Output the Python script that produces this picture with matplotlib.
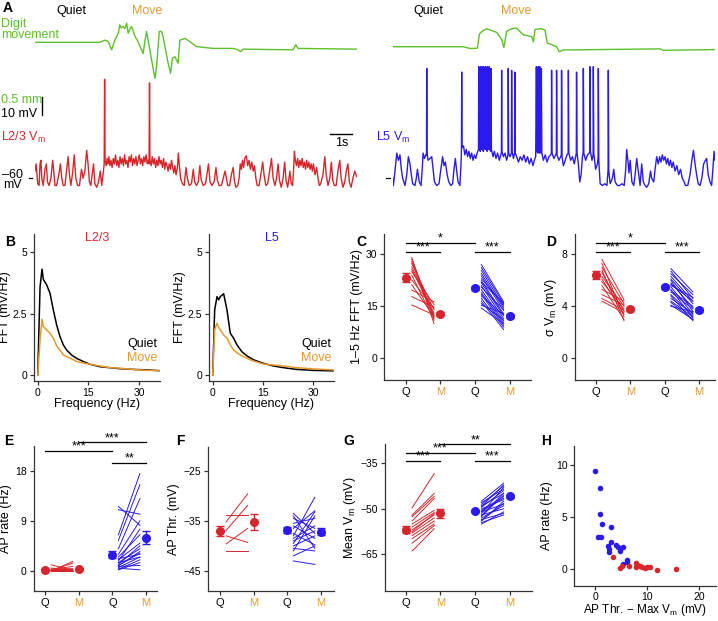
import matplotlib.pyplot as plt

plt.rcParams['font.family'] = ['Liberation Sans', 'DejaVu Sans']
plt.rcParams['mathtext.default'] = 'regular'

RED = '#D7262B'
BLUE = '#2A1AEE'
ORANGE = '#E8992E'
GREEN = '#5CC02A'
W, H = 718, 621

# ---- panel A traces (time s, Vm mV) / (time s, digit position mm)
l23_vm = [
    (0.00, -56), (0.05, -52), (0.12, -63), (0.18, -64), (0.22, -52), (0.26, -50), (0.30, -60), (0.36, -64),
    (0.44, -55), (0.50, -52), (0.55, -62), (0.62, -64), (0.70, -60), (0.78, -50), (0.82, -55), (0.88, -64),
    (0.95, -64), (1.05, -58), (1.12, -52), (1.18, -60), (1.24, -64), (1.32, -64), (1.40, -55), (1.46, -48),
    (1.52, -58), (1.58, -64), (1.66, -57), (1.73, -47), (1.80, -60), (1.88, -64), (1.96, -64), (2.05, -55),
    (2.12, -60), (2.20, -56), (2.28, -44.5), (2.34, -52), (2.40, -62), (2.46, -64), (2.52, -58), (2.58, -52),
    (2.64, -63), (2.72, -65), (2.80, -62), (2.88, -56), (2.94, -64), (3.00, -58), (3.05, -52), (3.07, -5),
    (3.09, -50), (3.14, -53), (3.18, -49), (3.22, -52), (3.26, -48), (3.30, -53), (3.35, -50), (3.40, -54),
    (3.45, -49), (3.50, -52), (3.55, -47), (3.60, -53), (3.65, -50), (3.70, -54), (3.75, -48), (3.80, -52),
    (3.85, -49), (3.90, -53), (3.95, -47), (4.00, -52), (4.05, -50), (4.10, -54), (4.15, -48), (4.20, -51),
    (4.25, -47), (4.30, -53), (4.35, -49), (4.40, -52), (4.45, -48), (4.50, -53), (4.55, -50), (4.60, -47),
    (4.65, -52), (4.70, -49), (4.75, -53), (4.80, -48), (4.85, -51), (4.90, -47), (4.95, -52), (5.00, -50),
    (5.03, -52), (5.05, -7), (5.07, -50), (5.12, -53), (5.17, -48), (5.22, -52), (5.27, -49), (5.32, -54),
    (5.37, -50), (5.42, -53), (5.47, -48), (5.52, -52), (5.57, -50), (5.62, -54), (5.67, -49), (5.72, -55),
    (5.77, -51), (5.82, -53), (5.87, -56), (5.92, -52), (5.97, -55), (6.02, -50), (6.07, -54), (6.12, -57),
    (6.17, -53), (6.22, -58), (6.28, -54), (6.32, -46), (6.36, -52), (6.42, -60), (6.50, -63), (6.58, -64),
    (6.66, -54), (6.72, -60), (6.80, -64), (6.90, -63), (6.98, -55), (7.04, -62), (7.12, -64), (7.20, -62),
    (7.27, -53), (7.33, -61), (7.42, -64), (7.52, -63), (7.60, -56), (7.65, -52), (7.72, -62), (7.80, -64),
    (7.90, -62), (7.98, -54), (8.04, -61), (8.12, -64), (8.22, -64), (8.30, -60), (8.38, -56), (8.44, -60),
    (8.50, -64), (8.58, -64), (8.66, -58), (8.74, -54), (8.80, -62), (8.86, -65), (8.94, -64), (9.00, -60),
    (9.05, -52), (9.10, -55), (9.15, -50), (9.20, -54), (9.25, -49), (9.32, -47.5), (9.38, -53), (9.44, -50),
    (9.50, -55), (9.56, -51), (9.62, -56), (9.68, -53), (9.74, -60), (9.80, -64), (9.88, -64), (9.96, -58),
    (10.04, -51), (10.10, -58), (10.18, -64), (10.26, -63), (10.36, -55), (10.43, -49), (10.50, -60),
    (10.58, -64), (10.65, -60), (10.72, -52), (10.78, -61), (10.86, -65), (10.94, -60), (11.01, -51),
    (11.07, -61), (11.14, -65), (11.20, -60), (11.24, -56), (11.30, -63), (11.36, -64), (11.40, -56),
    (11.44, -45), (11.48, -50), (11.53, -53), (11.58, -49), (11.63, -54), (11.68, -50), (11.73, -53),
    (11.78, -49), (11.83, -54), (11.88, -51), (11.93, -55), (11.98, -50), (12.03, -54), (12.08, -51),
    (12.13, -55), (12.18, -52), (12.23, -56), (12.28, -52), (12.35, -58), (12.42, -54), (12.48, -60),
    (12.54, -64), (12.60, -63), (12.70, -58), (12.78, -48), (12.84, -58), (12.92, -64), (13.00, -60),
    (13.07, -51), (13.13, -61), (13.20, -64), (13.28, -64), (13.36, -56), (13.44, -50), (13.50, -60),
    (13.58, -65), (13.66, -62), (13.74, -55), (13.80, -52), (13.86, -62), (13.94, -65), (14.02, -60),
    (14.10, -56), (14.18, -59),
]
l5_vm = [
    (0.00, -60), (0.03, -64), (0.10, -56), (0.18, -46), (0.25, -50), (0.32, -47), (0.38, -55), (0.44, -60),
    (0.54, -64), (0.62, -58), (0.69, -48), (0.76, -52), (0.82, -58), (0.88, -63), (0.98, -64), (1.04, -60),
    (1.09, -55), (1.17, -62), (1.25, -64), (1.30, -55), (1.34, -46), (1.40, -49), (1.46, -47), (1.49, -47),
    (1.50, 1), (1.51, -46), (1.56, -50), (1.64, -49), (1.72, -48), (1.78, -55), (1.84, -62), (1.94, -64),
    (2.04, -63), (2.12, -55), (2.20, -48), (2.26, -53), (2.32, -51), (2.40, -58), (2.47, -62), (2.56, -64),
    (2.64, -63), (2.70, -55), (2.76, -49), (2.82, -56), (2.88, -62), (2.96, -64), (3.01, -52), (3.03, -44),
    (3.04, -1), (3.05, -43), (3.12, -42), (3.18, -47), (3.24, -44), (3.30, -48), (3.36, -45), (3.42, -49),
    (3.48, -46), (3.54, -50), (3.60, -47), (3.66, -49), (3.72, -46), (3.78, -44), (3.79, 2), (3.81, -43),
    (3.86, -45), (3.87, 2), (3.89, -43), (3.93, -44), (3.94, 2), (3.96, -44), (4.00, -45), (4.01, 2),
    (4.03, -42), (4.08, -44), (4.09, 2), (4.11, -43), (4.16, -45), (4.17, 2), (4.19, -43), (4.24, -44),
    (4.25, 2), (4.27, -44), (4.32, -45), (4.33, 1), (4.35, -44), (4.42, -48), (4.48, -45), (4.55, -49),
    (4.62, -46), (4.70, -50), (4.76, -47), (4.79, -46), (4.80, 0), (4.81, -45), (4.88, -48), (4.95, -46),
    (5.02, -50), (5.08, -47), (5.09, 1), (5.11, -46), (5.17, -48), (5.23, -46), (5.24, 0), (5.26, -45),
    (5.32, -49), (5.37, -46), (5.38, -1), (5.40, -46), (5.46, -48), (5.54, -51), (5.62, -48), (5.70, -50),
    (5.78, -47), (5.86, -51), (5.94, -48), (6.02, -52), (6.10, -49), (6.18, -53), (6.24, -50), (6.30, -48),
    (6.33, 2), (6.35, -45), (6.40, -46), (6.41, 2), (6.43, -45), (6.47, -46), (6.48, 2), (6.50, -45),
    (6.54, -46), (6.55, 1), (6.57, -46), (6.64, -50), (6.72, -47), (6.80, -51), (6.88, -48), (6.96, -47),
    (6.99, -46), (7.00, 0), (7.02, -46), (7.10, -49), (7.18, -47), (7.21, -46), (7.22, 0), (7.24, -47),
    (7.32, -50), (7.40, -48), (7.43, -47), (7.44, 0), (7.46, -48), (7.52, -53), (7.60, -50), (7.68, -47),
    (7.73, -46), (7.74, 0), (7.76, -46), (7.84, -50), (7.92, -48), (8.00, -52), (8.06, -48), (8.09, -46),
    (8.10, -1), (8.12, -46), (8.18, -52), (8.24, -62), (8.30, -58), (8.36, -48), (8.39, -46), (8.40, 1),
    (8.42, -46), (8.50, -50), (8.58, -47), (8.66, -46), (8.68, -45), (8.69, 2), (8.71, -45), (8.78, -50),
    (8.83, -47), (8.84, 2), (8.86, -46), (8.94, -55), (9.02, -52), (9.05, -48), (9.06, 1), (9.08, -50),
    (9.14, -63), (9.24, -64), (9.34, -63), (9.44, -64), (9.49, -55), (9.50, 0), (9.52, -56), (9.58, -63),
    (9.68, -60), (9.74, -55), (9.80, -62), (9.90, -64), (10.00, -64), (10.10, -63), (10.20, -64),
    (10.26, -56), (10.31, -44), (10.36, -50), (10.41, -57), (10.46, -50), (10.54, -62), (10.62, -64),
    (10.68, -58), (10.75, -49), (10.82, -56), (10.90, -64), (10.97, -52), (11.04, -62), (11.12, -64),
    (11.19, -65), (11.28, -63), (11.36, -56), (11.41, -60), (11.50, -62), (11.56, -55), (11.63, -48),
    (11.70, -52), (11.76, -48), (11.82, -51), (11.88, -47), (11.94, -50), (12.00, -48), (12.06, -52),
    (12.12, -49), (12.18, -53), (12.24, -50), (12.30, -54), (12.36, -51), (12.44, -56), (12.52, -53),
    (12.60, -58), (12.68, -55), (12.76, -60), (12.84, -62), (12.90, -64), (13.00, -64), (13.10, -58),
    (13.18, -50), (13.25, -44.5), (13.32, -52), (13.39, -58), (13.46, -63), (13.54, -64), (13.62, -60),
    (13.70, -52), (13.78, -50), (13.83, -49), (13.90, -58), (13.98, -62), (14.05, -64), (14.10, -56),
    (14.16, -45), (14.20, -50),
]
digit_l23 = [
    (0.00, 0.00), (2.86, 0.00), (3.08, 0.06), (3.23, 0.02), (3.38, -0.21), (3.52, 0.06), (3.67, 0.25),
    (3.74, 0.48), (3.80, 0.40), (3.89, 0.44), (3.96, 0.38), (4.04, 0.53), (4.11, 0.25), (4.18, 0.36),
    (4.26, 0.44), (4.41, 0.16), (4.52, 0.05), (4.63, -0.12), (4.77, -0.31), (4.85, 0.05), (4.92, 0.30),
    (5.04, -0.12), (5.14, -0.49), (5.29, -1.00), (5.36, -0.68), (5.48, 0.30), (5.58, 0.30), (5.65, 0.15),
    (5.73, -0.12), (5.87, -0.58), (5.98, -0.86), (6.06, -0.44), (6.17, -0.40), (6.31, -0.58), (6.39, 0.06),
    (6.61, 0.11), (6.83, 0.02), (7.12, -0.12), (7.86, -0.17), (8.74, -0.17), (8.96, -0.21), (9.06, -0.26),
    (9.18, -0.19), (11.38, -0.21), (11.50, -0.07), (11.60, -0.17), (14.17, -0.19),
]
digit_l5 = [
    (0.00, 0.00), (3.11, 0.00), (3.41, -0.05), (3.73, -0.04), (3.82, 0.35), (3.92, 0.42), (4.14, 0.50),
    (4.36, 0.45), (4.58, 0.40), (4.80, 0.20), (4.90, -0.02), (5.02, 0.43), (5.24, 0.50), (5.46, 0.52),
    (5.64, 0.40), (5.76, 0.33), (5.98, 0.30), (6.12, 0.28), (6.20, 0.14), (6.27, 0.48), (6.56, 0.50),
    (6.71, 0.46), (6.81, 0.10), (7.00, 0.06), (7.22, 0.00), (7.34, -0.14), (7.52, -0.09), (11.78, -0.06),
    (11.92, -0.10), (14.20, -0.08),
]

# ---- panel B
freq_l23 = [0, 0.69, 1.28, 1.67, 2.65, 3.64, 4.62, 5.6, 6.59, 7.57, 8.55, 10.0, 11.5, 13.5, 15.4, 18.4, 21.3, 24.3, 28.2, 32.2, 35.9]
fft_l23_quiet = [0, 3.6, 4.32, 3.9, 3.68, 3.34, 2.66, 2.05, 1.58, 1.24, 1.03, 0.83, 0.69, 0.56, 0.45, 0.35, 0.31, 0.27, 0.24, 0.22, 0.19]
fft_l23_move = [0, 1.44, 2.28, 1.98, 1.85, 1.71, 1.51, 1.2, 1.03, 0.83, 0.76, 0.67, 0.56, 0.5, 0.45, 0.38, 0.31, 0.29, 0.24, 0.2, 0.19]
freq_l5 = [0, 0.59, 1.29, 1.78, 2.28, 3.27, 4.26, 5.25, 6.24, 7.23, 8.7, 10.2, 12.2, 15.1, 18.1, 21.1, 25, 30, 35.9]
fft_l5_quiet = [0, 2.66, 3.2, 3.07, 3.2, 3.32, 2.66, 1.71, 1.51, 1.24, 0.96, 0.79, 0.63, 0.49, 0.38, 0.31, 0.24, 0.2, 0.18]
fft_l5_move = [0, 1.85, 2.12, 1.95, 1.85, 1.64, 1.51, 1.24, 1.03, 0.92, 0.79, 0.69, 0.58, 0.46, 0.42, 0.38, 0.31, 0.26, 0.22]

# ---- panels C-G: group means/SEM (L2/3 Q, L2/3 M, L5 Q, L5 M) and single cells
cond_labels = ['Q', 'M', 'Q', 'M']
c_mean = [23.3, 12.7, 20.3, 12.1]
c_sem = [1.3, 0.6, 0.6, 0.6]
c_l23_q = [29.1, 28.6, 27.9, 27.4, 26.4, 25.7, 25.0, 24.0, 22.6, 21.2, 19.7, 17.8, 15.4]
c_l23_m = [10.0, 12.0, 11.5, 14.0, 13.0, 12.5, 15.5, 11.0, 14.5, 12.0, 16.3, 14.8, 12.5]
c_l5_q = [27.1, 26.2, 25.4, 24.5, 23.8, 23.0, 22.4, 21.8, 21.0, 20.5, 19.8, 19.0, 18.5, 18.0, 17.3, 16.5, 15.8, 15.3, 14.5, 22.0]
c_l5_m = [16.3, 15.8, 15.0, 14.5, 13.8, 15.5, 12.8, 12.3, 11.5, 14.0, 10.8, 10.2, 9.5, 12.5, 9.0, 8.3, 11.0, 13.0, 10.0, 16.0]

d_mean = [6.4, 3.8, 5.5, 3.75]
d_sem = [0.3, 0.15, 0.15, 0.15]
d_l23_q = [7.6, 7.3, 7.0, 6.8, 6.6, 6.3, 6.1, 5.9, 5.6, 5.3, 4.9, 4.6, 4.4]
d_l23_m = [4.5, 3.2, 4.2, 2.9, 3.6, 4.0, 3.4, 3.8, 3.0, 4.4, 4.1, 3.7, 3.5]
d_l5_q = [6.9, 6.7, 6.5, 6.3, 6.1, 6.0, 5.8, 5.6, 5.5, 5.3, 5.1, 4.9, 4.8, 4.6, 4.4, 4.3, 4.1, 4.0, 5.7, 5.2]
d_l5_m = [5.1, 4.6, 4.9, 4.4, 4.2, 3.6, 3.9, 4.7, 3.4, 3.1, 3.8, 3.3, 2.9, 3.5, 3.2, 3.0, 3.0, 3.6, 4.4, 4.0]

e_mean = [0.2, 0.3, 2.9, 6.0]
e_sem = [0.1, 0.1, 0.6, 1.1]
e_l23_q = [0, 0, 0.1, 1.1, 0.2, 0, 0.3, 0, 0.1, 0, 0.5, 0, 0.2]
e_l23_m = [0.2, 1.7, 1.4, 0.1, 0.4, 0, 0.8, 0, 0.2, 0.1, 0.3, 0, 0.3]
e_l5_q = [11.6, 11.0, 6.5, 5.5, 4.0, 3.0, 2.5, 2.0, 1.5, 1.0, 0.6, 0.3, 0.2, 0.5, 1.2, 2.2, 1.8, 0.8, 1.5, 0.9]
e_l5_m = [8.2, 10.2, 17.5, 15.5, 13.0, 9.0, 6.5, 5.0, 4.0, 3.2, 2.5, 2.0, 1.5, 0.2, 4.5, 3.0, 7.5, 1.0, 2.5, 3.5]

f_mean = [-37.0, -35.2, -36.8, -37.2]
f_sem = [1.0, 1.6, 0.6, 0.7]
f_l23_q = [-35.2, -36.9, -33.9, -39.6, -41.0, -38.0]
f_l23_m = [-29.6, -31.9, -33.9, -36.5, -41.0, -39.3]
f_l5_q = [-43.0, -38.0, -33.5, -39.5, -34.0, -41.0, -36.0, -38.5, -40.5, -35.5, -37.5, -39.0, -34.5, -40.0, -36.5, -42.0]
f_l5_m = [-43.7, -30.3, -37.5, -33.2, -40.5, -34.0, -38.5, -36.0, -41.0, -34.5, -39.8, -37.0, -36.5, -38.0, -33.0, -40.0]

g_mean = [-56.8, -51.5, -50.7, -45.9]
g_sem = [1.0, 1.5, 0.4, 0.4]
g_l23_q = [-49.7, -52.1, -52.6, -54.0, -55.0, -56.0, -56.9, -57.9, -58.8, -59.8, -61.3, -63.9, -57.5]
g_l23_m = [-38.4, -44.9, -45.9, -46.6, -50.5, -51.2, -52.0, -53.0, -54.0, -55.0, -55.5, -56.5, -51.6]
g_l5_q = [-47.5, -48.0, -48.5, -49.0, -49.5, -50.0, -50.5, -51.0, -51.5, -52.0, -52.5, -53.0, -53.5, -54.0, -54.5, -55.0, -49.2, -50.8, -52.2, -53.8]
g_l5_m = [-41.6, -43.5, -42.5, -45.0, -44.0, -47.0, -46.0, -48.5, -43.0, -50.0, -45.5, -49.0, -51.5, -47.5, -52.0, -51.0, -42.2, -46.5, -44.8, -48.2]

# ---- panel H
h_l5_x = [0, 1.03, 1.03, 1.35, 0.58, 1.15, 3.08, 3.14, 2.56, 2.76, 2.63, 4.0, 4.36, 4.74, 5.38, 5.38, 6.09, 6.15, 8.08]
h_l5_y = [9.42, 7.86, 5.34, 4.38, 3.13, 3.13, 4.03, 2.68, 2.24, 1.92, 1.69, 2.3, 2.14, 1.76, 2.2, 0.48, 0.93, 0.7, 0.42]
h_l23_x = [3.46, 4.87, 5.26, 6.47, 7.82, 7.82, 8.65, 8.97, 9.55, 10.06, 10.58, 11.86, 15.58]
h_l23_y = [1.15, 0.16, 0.29, 0.32, 0.61, 0.19, 0.32, 0.22, 0.13, 0.19, 0.19, -0.03, 0.06]

fig = plt.figure(figsize=(W / 100, H / 100), dpi=100)


def add_ax(l, t, r, b):
    return fig.add_axes([l / W, 1 - b / H, (r - l) / W, (b - t) / H])


def ft(x, y, s, **kw):
    kw.setdefault('fontsize', 9)
    kw.setdefault('va', 'center')
    fig.text(x / W, 1 - y / H, s, **kw)


def style(ax):
    for s in ['top', 'right']:
        ax.spines[s].set_visible(False)
    for s in ['left', 'bottom']:
        ax.spines[s].set_linewidth(0.9)
        ax.spines[s].set_color('#333333')
    ax.tick_params(length=3, width=0.9, labelsize=7.5, pad=2, color='#333333')


def sig(ax, x0, x1, y, txt):
    ax.plot([x0, x1], [y, y], color='k', lw=0.9, clip_on=False)
    ax.annotate(txt, ((x0 + x1) / 2, y), xytext=(0, -1.2), textcoords='offset points',
                ha='center', va='bottom', fontsize=9, annotation_clip=False)


def unzip(pts):
    return [p[0] for p in pts], [p[1] for p in pts]


# ================= A
MM_TO_MV = 20.0
ylimA = (-69.28, 36.28)
for l, r, vm, dig, col, base in [(35, 357, l23_vm, digit_l23, RED, 15.56),
                                (392.7, 715, l5_vm, digit_l5, BLUE, 13.1)]:
    ax = add_ax(l, 5, r, 195)
    ax.set_xlim(0, 14.2)
    ax.set_ylim(*ylimA)
    ax.axis('off')
    t, v = unzip(vm)
    ax.plot(t, v, color=col, lw=1.0)
    t, d = unzip(dig)
    ax.plot(t, [base + x * MM_TO_MV for x in d], color=GREEN, lw=1.0)
    ax.plot([-0.28, -0.12], [-60, -60], color='k', lw=0.9, clip_on=False)
    if col == RED:
        ax.plot([0.32, 0.32], [-24.8, -14.8], color='k', lw=1.0, clip_on=False)
        ax.plot([13.0, 14.0], [-35.2, -35.2], color='k', lw=1.0, clip_on=False)

ft(3, 8, 'A', weight='bold', fontsize=10)
ft(71, 11, 'Quiet', ha='center')
ft(146.7, 11, 'Move', ha='center', color=ORANGE)
ft(428.3, 11, 'Quiet', ha='center')
ft(516, 11, 'Move', ha='center', color=ORANGE)
ft(1, 24.5, 'Digit', color=GREEN)
ft(1, 35, 'movement', color=GREEN)
ft(1, 100, '0.5 mm', color=GREEN)
ft(1, 114, '10 mV')
ft(1, 137, 'L2/3 V$_m$', color=RED)
ft(342, 143.5, '1s', ha='center')
ft(23, 174.5, '\u201360', ha='right')
ft(3, 185, 'mV')
ft(376, 137, 'L5 V$_m$', color=BLUE)

# ================= B
for l, r, freq, q, m, ttl, col in [
        (34, 160, freq_l23, fft_l23_quiet, fft_l23_move, 'L2/3', RED),
        (209, 334, freq_l5, fft_l5_quiet, fft_l5_move, 'L5', BLUE)]:
    ax = add_ax(l, 234, r, 380.7)
    style(ax)
    ax.plot(freq, q, color='k', lw=1.1)
    ax.plot(freq, m, color=ORANGE, lw=1.1)
    ax.set_xlim(-1.1, 36.2)
    ax.set_ylim(-0.22, 5.75)
    ax.set_xticks([0, 15, 30])
    ax.set_yticks([0, 2.5, 5])
    ax.set_yticklabels(['0', '2.5', '5'])
    ax.set_xlabel('Frequency (Hz)', fontsize=9, labelpad=0)
    ax.set_ylabel('FFT (mV/Hz)', fontsize=9, labelpad=1)
    ax.text(0.5, 0.97, ttl, color=col, transform=ax.transAxes, ha='center', va='center', fontsize=9)
    ax.text(0.98, 0.25, 'Quiet', transform=ax.transAxes, ha='right', va='center', fontsize=9)
    ax.text(0.98, 0.155, 'Move', color=ORANGE, transform=ax.transAxes, ha='right', va='center', fontsize=9)
ft(5, 242, 'B', weight='bold', fontsize=10)


# ================= C-G
def paired(ax, mean, sem, l23_q, l23_m, l5_q, l5_m, xlim, ylim, yticks):
    style(ax)
    for a, b in zip(l23_q, l23_m):
        ax.plot([0.18, 0.82], [a, b], color=RED, lw=0.7)
    for a, b in zip(l5_q, l5_m):
        ax.plot([2.18, 2.82], [a, b], color=BLUE, lw=0.7)
    cols = [RED, RED, BLUE, BLUE]
    for i in range(4):
        ax.errorbar(i, mean[i], yerr=sem[i], fmt='o', color=cols[i], ms=5.5, capsize=3,
                    elinewidth=1.0, capthick=1.0, zorder=5)
    ax.set_xlim(*xlim)
    ax.set_ylim(*ylim)
    ax.set_yticks(yticks)
    ax.set_xticks(range(4))
    ax.set_xticklabels(cond_labels, fontsize=8)
    for lab, c in zip(ax.get_xticklabels(), ['k', ORANGE, 'k', ORANGE]):
        lab.set_color(c)


ax = add_ax(384.3, 234, 530.7, 379.7)
paired(ax, c_mean, c_sem, c_l23_q, c_l23_m, c_l5_q, c_l5_m, (-0.61, 3.6), (-6.2, 35.9), [0, 15, 30])
ax.set_ylabel('1\u20135 Hz FFT (mV/Hz)', fontsize=9, labelpad=2)
sig(ax, 0, 1, 30.8, '***')
sig(ax, 0, 2, 33.4, '*')
sig(ax, 2, 3, 30.8, '***')
ft(356, 242, 'C', weight='bold', fontsize=10)

ax = add_ax(574.7, 234, 715, 380)
paired(ax, d_mean, d_sem, d_l23_q, d_l23_m, d_l5_q, d_l5_m, (-0.61, 3.46), (-1.65, 9.55), [0, 4, 8])
ax.set_ylabel('\u03c3 V$_m$ (mV)', fontsize=9, labelpad=2)
sig(ax, 0, 1, 8.2, '***')
sig(ax, 0, 2, 8.85, '*')
sig(ax, 2, 3, 8.2, '***')
ft(546, 242, 'D', weight='bold', fontsize=10)

ax = add_ax(33.7, 445.7, 156.7, 591)
paired(ax, e_mean, e_sem, e_l23_q, e_l23_m, e_l5_q, e_l5_m, (-0.34, 3.32), (-3.6, 22.5), [0, 9, 18])
ax.set_ylabel('AP rate (Hz)', fontsize=9, labelpad=2)
sig(ax, 0, 2, 21.6, '***')
sig(ax, 1, 3, 23.1, '***')
sig(ax, 2, 3, 19.4, '**')
ft(4, 441, 'E', weight='bold', fontsize=10)

ax = add_ax(207.7, 446.7, 334.3, 591)
paired(ax, f_mean, f_sem, f_l23_q, f_l23_m, f_l5_q, f_l5_m, (-0.37, 3.4), (-49, -20.2), [-45, -35, -25])
ax.set_ylabel('AP Thr. (mV)', fontsize=9, labelpad=2)
ft(176, 441, 'F', weight='bold', fontsize=10)

ax = add_ax(385, 444.3, 531.7, 591)
paired(ax, g_mean, g_sem, g_l23_q, g_l23_m, g_l5_q, g_l5_m, (-0.6, 3.63), (-77, -28.8), [-65, -50, -35])
ax.set_ylabel('Mean V$_m$ (mV)', fontsize=9, labelpad=2)
sig(ax, 0, 1, -34.3, '***')
sig(ax, 0, 2, -31.5, '***')
sig(ax, 1, 3, -28.8, '**')
sig(ax, 2, 3, -34.3, '***')
ft(343, 441, 'G', weight='bold', fontsize=10)

# ================= H
ax = add_ax(574.3, 445.7, 715.7, 586)
style(ax)
ax.tick_params(axis='x', pad=1)
ax.scatter(h_l5_x, h_l5_y, s=16, color=BLUE, zorder=3, linewidths=0)
ax.scatter(h_l23_x, h_l23_y, s=16, color=RED, zorder=3, linewidths=0)
ax.set_xlim(-4, 23.2)
ax.set_ylim(-1.6, 11.9)
ax.set_xticks([0, 10, 20])
ax.set_yticks([0, 5, 10])
ax.set_xlabel('AP Thr. \u2212 Max V$_m$ (mV)', fontsize=8.5, labelpad=0.5)
ax.set_ylabel('AP rate (Hz)', fontsize=9, labelpad=2)
ft(541, 441, 'H', weight='bold', fontsize=10)

fig.savefig('out.png', dpi=100)
